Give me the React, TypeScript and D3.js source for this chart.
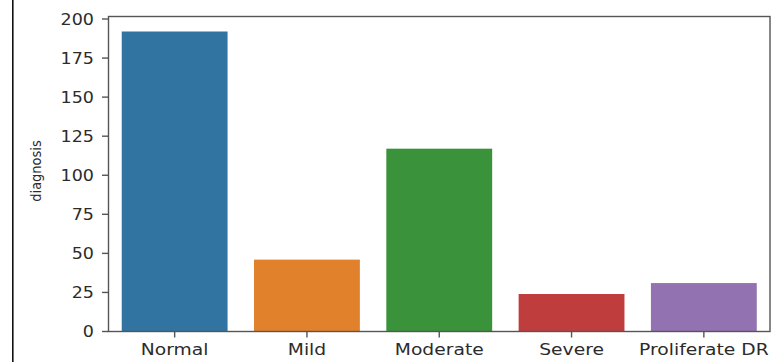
import React from "react";
import * as d3 from "d3";

const categories = ["Normal", "Mild", "Moderate", "Severe", "Proliferate DR"];
const counts = [192, 46, 117, 24, 31];
const colors = ["#3274a1", "#e1812c", "#3a923a", "#c03d3e", "#9372b2"];
const yTicks = [0, 25, 50, 75, 100, 125, 150, 175, 200];
const yLabel = "diagnosis";

const W = 776;
const H = 362;
const M = { left: 108.5, right: 770, top: 16.5, bottom: 331.5 };
const SX = 1.13;
const textColor = "#2b2b2b";
const font = "DejaVu Sans, sans-serif";

export default function App() {
  const x = d3
    .scaleBand<string>()
    .domain(categories)
    .range([M.left, M.right])
    .paddingInner(0.2)
    .paddingOuter(0.1);
  const yMax = d3.max(counts)! * 1.05;
  const y = d3.scaleLinear().domain([0, yMax]).range([M.bottom, M.top]);

  return (
    <div style={{ position: "absolute", left: 0, top: 0 }}>
      <svg width={W} height={H} style={{ display: "block", background: "#fff" }}>
        <line x1={12.8} x2={12.8} y1={0} y2={H} stroke="#111" strokeWidth={1.6} />
        {categories.map((c, i) => (
          <rect
            key={c}
            x={x(c)}
            width={x.bandwidth()}
            y={y(counts[i])}
            height={y(0) - y(counts[i])}
            fill={colors[i]}
          />
        ))}
        <rect
          x={M.left}
          y={M.top}
          width={M.right - M.left}
          height={M.bottom - M.top}
          fill="none"
          stroke="#555"
          strokeWidth={1.4}
        />
        {yTicks.map((t) => (
          <g key={t}>
            <line x1={M.left - 6.5} x2={M.left} y1={y(t)} y2={y(t)} stroke="#555" strokeWidth={1.4} />
            <text
              transform={`translate(${94},${y(t) + 5.6}) scale(${SX},1)`}
              textAnchor="end"
              fontFamily={font}
              fontSize={15.5}
              fill={textColor}
            >
              {t}
            </text>
          </g>
        ))}
        {categories.map((c) => {
          const cx = x(c)! + x.bandwidth() / 2;
          return (
            <g key={c}>
              <line x1={cx} x2={cx} y1={M.bottom} y2={M.bottom + 6} stroke="#555" strokeWidth={1.4} />
              <text
                transform={`translate(${cx},${354.5}) scale(${SX + 0.04},1)`}
                textAnchor="middle"
                fontFamily={font}
                fontSize={16}
                fill={textColor}
              >
                {c}
              </text>
            </g>
          );
        })}
        <text
          transform={`translate(${40.5},${171}) scale(${SX},1) rotate(-90)`}
          textAnchor="middle"
          fontFamily={font}
          fontSize={13}
          fill={textColor}
        >
          {yLabel}
        </text>
      </svg>
    </div>
  );
}
